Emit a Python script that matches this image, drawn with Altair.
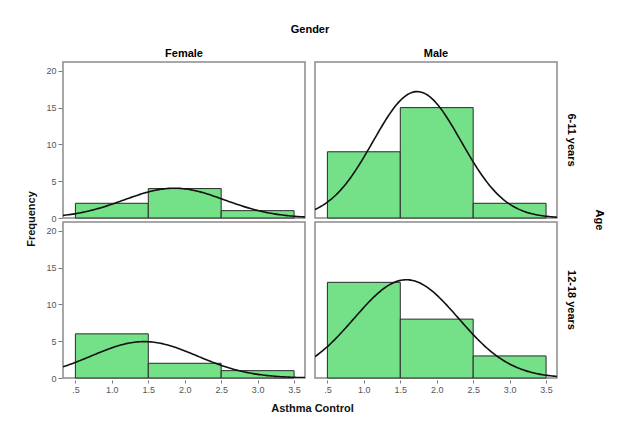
import altair as alt
import numpy as np
import pandas as pd

genders = ["Female", "Male"]
ages = ["6-11 years", "12-18 years"]
scores = [1, 2, 3]
bin_starts = [0.5, 1.5, 2.5]
bin_ends = [1.5, 2.5, 3.5]
female_6_11 = [2, 4, 1]
male_6_11 = [9, 15, 2]
female_12_18 = [6, 2, 1]
male_12_18 = [13, 8, 3]
x_ticks = [0.5, 1.0, 1.5, 2.0, 2.5, 3.0, 3.5]
y_ticks = [0, 5, 10, 15, 20]

panels = [
    ("Female", "6-11 years", female_6_11),
    ("Male", "6-11 years", male_6_11),
    ("Female", "12-18 years", female_12_18),
    ("Male", "12-18 years", male_12_18),
]

X_MIN, X_MAX = 0.33, 3.65
rows = []
for g, a, cnt in panels:
    for s0, s1, c in zip(bin_starts, bin_ends, cnt):
        rows.append(dict(gender=g, age=a, kind="bar", x=s0, x2=s1, y=c, y0=0))
    # fitted normal curve (from the histogram's own mean / sd)
    vals = np.repeat(scores, cnt)
    n = len(vals)
    mu = vals.mean()
    sd = vals.std(ddof=1)
    for xv in np.linspace(X_MIN, X_MAX, 150):
        yv = n * 1.0 / (sd * np.sqrt(2 * np.pi)) * np.exp(-0.5 * ((xv - mu) / sd) ** 2)
        rows.append(dict(gender=g, age=a, kind="curve", x=xv, x2=None, y=yv, y0=None))
df = pd.DataFrame(rows)

xscale = alt.Scale(domain=[X_MIN, X_MAX], nice=False, zero=False)
yscale = alt.Scale(domain=[0, 21.2], nice=False)
xaxis = alt.Axis(values=x_ticks, title=None, tickSize=3, labelPadding=2,
                 labelExpr="datum.value == 0.5 ? '.5' : format(datum.value, '.1f')")
yaxis = alt.Axis(values=y_ticks, title=None, tickSize=4, labelPadding=2)

bars = alt.Chart().transform_filter(alt.datum.kind == "bar").mark_rect(
    fill="#74E087", stroke="#2a2a2a", strokeWidth=1
).encode(
    x=alt.X("x:Q", scale=xscale, axis=xaxis),
    x2="x2:Q",
    y=alt.Y("y:Q", scale=yscale, axis=yaxis),
    y2="y0:Q",
)
curve = alt.Chart().transform_filter(alt.datum.kind == "curve").mark_line(
    color="#111111", strokeWidth=1.6, clip=True
).encode(
    x=alt.X("x:Q", scale=xscale, axis=xaxis),
    y=alt.Y("y:Q", scale=yscale, axis=yaxis),
)

facet = alt.layer(bars, curve, data=df).properties(width=242, height=156).facet(
    column=alt.Column("gender:N", sort=genders,
                      header=alt.Header(title="Gender", labelOrient="top", titleOrient="top",
                                        labelFontSize=11, labelFontWeight="bold",
                                        titleFontSize=11, titleFontWeight="bold",
                                        labelFont="Liberation Sans", titleFont="Liberation Sans",
                                        labelPadding=2, titlePadding=3)),
    row=alt.Row("age:N", sort=ages,
                header=alt.Header(title="Age", labelOrient="right", titleOrient="right",
                                  labelAngle=90, titleAngle=90,
                                  labelFontSize=11, labelFontWeight="bold",
                                  titleFontSize=11, titleFontWeight="bold",
                                  labelFont="Liberation Sans", titleFont="Liberation Sans",
                                  labelPadding=8, titlePadding=7)),
    spacing={"row": 1, "column": 8},
).properties(
    title=alt.TitleParams("Asthma Control", orient="bottom", anchor="middle",
                          fontSize=11, fontWeight="bold", font="Liberation Sans",
                          color="#111111", offset=9, dx=-13)
)

chart = alt.vconcat(facet).properties(
    title=alt.TitleParams("Frequency", orient="left", anchor="middle",
                          fontSize=11, fontWeight="bold", font="Liberation Sans",
                          color="#111111", offset=30, dy=21),
    padding={"left": 17, "top": 16, "right": 5, "bottom": 5},
).configure_view(
    stroke="#8a8a8a", strokeWidth=1.5
).configure_axis(
    grid=False, domain=False, tickColor="#777777",
    labelColor="#555555", labelFontSize=9, labelFont="Liberation Sans",
)

chart.save("out.html", embed_options={"renderer": "svg", "actions": False})
